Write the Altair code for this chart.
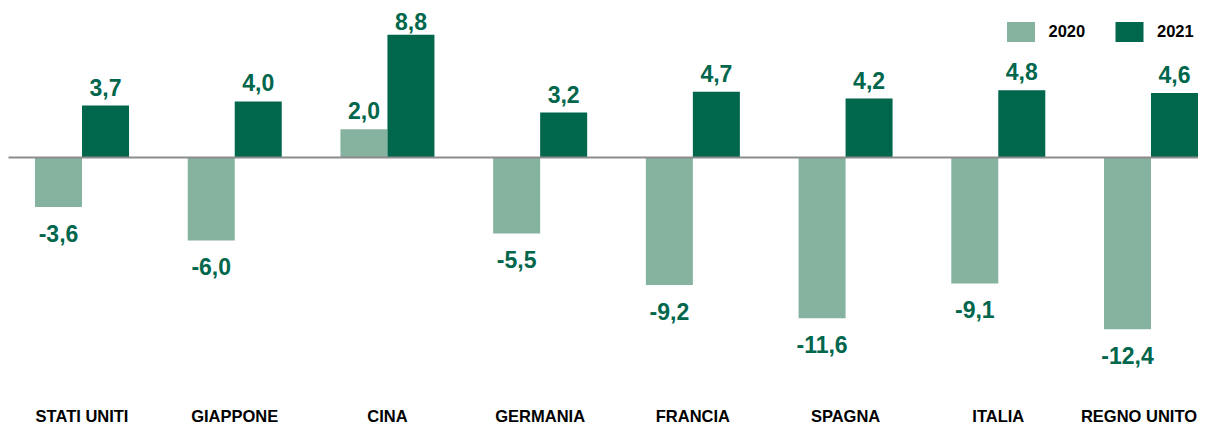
import altair as alt
import pandas as pd

countries = ["STATI UNITI", "GIAPPONE", "CINA", "GERMANIA", "FRANCIA", "SPAGNA", "ITALIA", "REGNO UNITO"]
years = ["2020", "2021"]
v2020 = [-3.6, -6.0, 2.0, -5.5, -9.2, -11.6, -9.1, -12.4]
v2021 = [3.7, 4.0, 8.8, 3.2, 4.7, 4.2, 4.8, 4.6]

rows = []
for c, a, b in zip(countries, v2020, v2021):
    rows.append({"country": c, "year": "2020", "v": a})
    rows.append({"country": c, "year": "2021", "v": b})
df = pd.DataFrame(rows)

LIGHT = "#86B2A0"
DARK = "#00664C"
FONT = "Liberation Sans"

W = 1190
H = 395
zero_px = 149
ppu = 13.9
ymax = zero_px / ppu
ymin = -(H - zero_px) / ppu

x = alt.X(
    "country:N",
    sort=countries,
    scale=alt.Scale(paddingInner=0.38445, paddingOuter=0.08846, align=1.0, round=False),
    axis=alt.Axis(
        title=None, domain=False, ticks=False, tickSize=0, labelAngle=0,
        labelFont=FONT, labelFontSize=16.5, labelFontWeight="bold", labelColor="#000000",
        labelPadding=18, labelBaseline="alphabetic", labelOverlap=False,
        labelBound=False, labelFlush=False,
        labelOffset={"condition": {"test": "datum.value === 'REGNO UNITO'", "value": -12}, "value": 0},
    ),
)
xo = alt.XOffset("year:N", sort=years, scale=alt.Scale(round=False))
y = alt.Y(
    "v:Q",
    scale=alt.Scale(domain=[ymin, ymax], nice=False, zero=False),
    axis=alt.Axis(
        values=[0], grid=True, gridColor="#8c8c8c", gridWidth=2, gridOpacity=1,
        labels=False, ticks=False, domain=False, title=None, zindex=1,
    ),
)

base = alt.Chart(df).transform_calculate(
    lab="(datum.v < 0 ? '-' : '') + replace(format(abs(datum.v), '.1f'), '.', ',')"
)

bars = base.mark_bar().encode(
    x=x, xOffset=xo, y=y,
    color=alt.Color(
        "year:N",
        scale=alt.Scale(domain=years, range=[LIGHT, DARK]),
        legend=alt.Legend(
            title=None, orient="none", legendX=999, legendY=10, direction="horizontal",
            symbolType="M-1,-0.714L1,-0.714L1,0.714L-1,0.714Z", symbolSize=784,
            symbolStrokeWidth=0, symbolOpacity=1,
            labelFont=FONT, labelFontSize=16.5, labelFontWeight="bold", labelColor="#000000",
            labelOffset=13.5, columnPadding=29.5,
        ),
    ),
)

text_style = dict(font=FONT, fontSize=23, fontWeight="bold", color=DARK, baseline="alphabetic")

pos_labels = base.transform_filter("datum.v >= 0 && datum.v < 8").mark_text(
    dy=-10, **text_style
).encode(x=x, xOffset=xo, y=y, text="lab:N")

tall_labels = base.transform_filter("datum.v >= 8").mark_text(
    dy=-5, **text_style
).encode(x=x, xOffset=xo, y=y, text="lab:N")

neg_labels = base.transform_filter("datum.v < 0").mark_text(
    dy=35, **text_style
).encode(x=x, xOffset=xo, y=y, text="lab:N")

chart = alt.layer(bars, pos_labels, tall_labels, neg_labels).properties(
    width=W, height=H,
    autosize=alt.AutoSizeParams(type="none"),
    padding={"left": 0, "top": 0, "right": 0, "bottom": 20},
    background="#ffffff",
).configure_view(stroke=None)

chart.save("out.html", embed_options={"renderer": "svg", "actions": False})
